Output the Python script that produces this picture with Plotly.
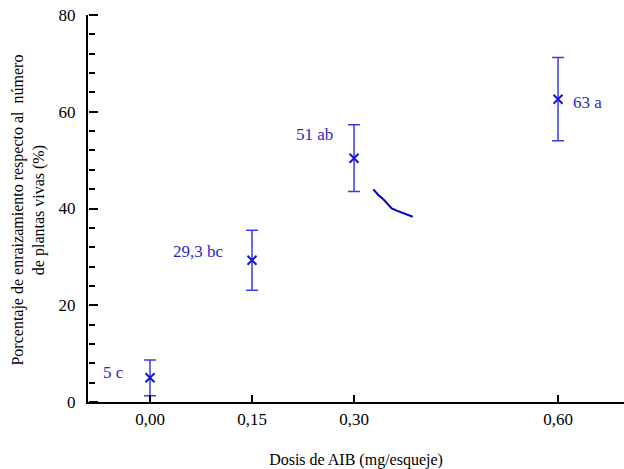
import plotly.graph_objects as go

doses = [0.0, 0.15, 0.30, 0.60]
rooting = [5.0, 29.3, 50.4, 62.6]
err = [3.7, 6.2, 6.9, 8.6]
labels = ["5 c", "29,3 bc", "51 ab", "63 a"]
label_x = [-0.054, 0.072, 0.242, 0.644]
label_y = [6.0, 31.2, 55.2, 61.9]
tick_vals = [0.0, 0.15, 0.30, 0.60]
tick_text = ["0,00", "0,15", "0,30", "0,60"]
x_title = "Dosis de AIB (mg/esqueje)"
y_title = "Porcentaje de enraizamiento respecto al&nbsp; número<br>de plantas vivas (%)"

curve_x = [0.3284, 0.3357, 0.3431, 0.3490, 0.3554, 0.3628, 0.3725, 0.3863]
curve_y = [43.97, 42.8, 41.9, 40.9, 40.0, 39.55, 39.0, 38.3]

FONT = "Liberation Serif"
XR = [-0.0912, 0.697]
YR = [0, 80]

fig = go.Figure()
fig.add_trace(go.Scatter(
    x=doses, y=rooting, mode="markers",
    marker=dict(symbol="x-thin", size=9, line=dict(width=2, color="#1515d8")),
    error_y=dict(type="data", array=err, visible=True, color="#3a3aee",
                 thickness=1.5, width=6),
    showlegend=False,
))
fig.add_trace(go.Scatter(
    x=curve_x, y=curve_y, mode="lines",
    line=dict(color="#0000c8", width=2), showlegend=False,
))
# invisible trace so the tick-only overlay axes get drawn
fig.add_trace(go.Scatter(
    x=doses, y=rooting, mode="markers", marker=dict(opacity=0),
    xaxis="x2", yaxis="y2", hoverinfo="skip", showlegend=False,
))
for lx, ly, t in zip(label_x, label_y, labels):
    fig.add_annotation(x=lx, y=ly, text=t, showarrow=False,
                       font=dict(family=FONT, size=17, color="#2a2ac0"))

fig.add_annotation(
    text=y_title, xref="paper", yref="paper", x=-0.111, y=0.496,
    xanchor="center", yanchor="middle", textangle=-90, showarrow=False,
    font=dict(family=FONT, size=16, color="black"),
)

fig.update_layout(
    width=624, height=469,
    margin=dict(l=88, r=0, t=15, b=67),
    plot_bgcolor="white", paper_bgcolor="white",
    font=dict(family=FONT, size=16, color="black"),
    xaxis=dict(
        range=XR, tickvals=tick_vals, ticktext=tick_text,
        showgrid=False, zeroline=False, showline=True, linecolor="black", linewidth=2,
        ticks="", ticklabelstandoff=1,
        title=dict(text=x_title, standoff=26, font=dict(family=FONT, size=16)),
        tickfont=dict(family=FONT, size=17),
    ),
    yaxis=dict(
        range=YR, tickmode="linear", tick0=0, dtick=20,
        showgrid=False, zeroline=False, showline=True, linecolor="black", linewidth=2,
        ticks="", ticklabelstandoff=7,
        tickfont=dict(family=FONT, size=17),
    ),
    xaxis2=dict(
        overlaying="x", matches="x", range=XR, side="top", anchor="free", position=0,
        tickvals=tick_vals, showticklabels=False, showgrid=False, zeroline=False,
        showline=False, ticks="outside", ticklen=7, tickwidth=2, tickcolor="black",
    ),
    yaxis2=dict(
        overlaying="y", matches="y", range=YR, side="right", anchor="free", position=0,
        tickmode="linear", tick0=0, dtick=20, showticklabels=False, showgrid=False,
        zeroline=False, showline=False, ticks="outside", ticklen=9, tickwidth=2,
        tickcolor="black",
        minor=dict(ticks="outside", tickmode="linear", tick0=0, dtick=4, ticklen=6,
                   tickwidth=2, tickcolor="black", showgrid=False),
    ),
)

fig.write_html("out.html")
